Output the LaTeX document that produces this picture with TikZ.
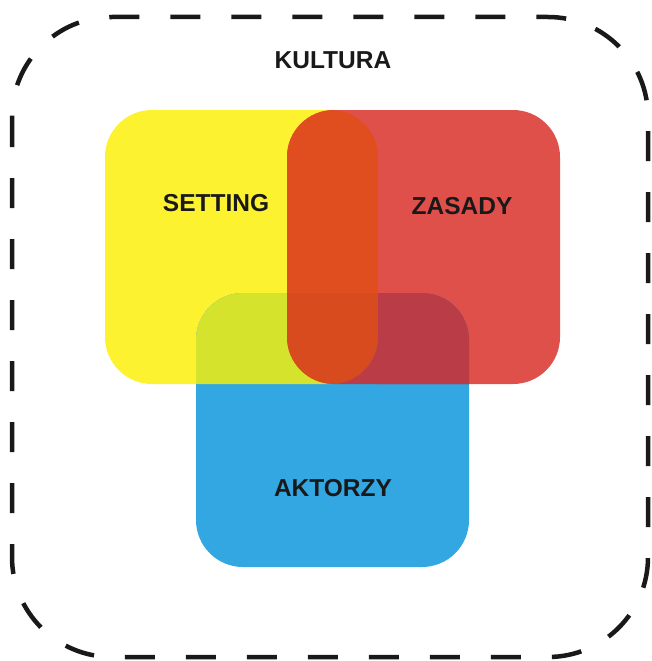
\documentclass[tikz,border=0pt]{standalone}
\usepackage{fontspec}
\setmainfont{Liberation Sans}
\definecolor{cY}{HTML}{FDF22F}
\definecolor{cR}{HTML}{E0504B}
\definecolor{cB}{HTML}{33A7E1}
\definecolor{cYR}{HTML}{E04E1F}
\definecolor{cYB}{HTML}{D5E32D}
\definecolor{cRB}{HTML}{B93C46}
\definecolor{cYRB}{HTML}{D84B1F}
\tikzset{
  lbl/.style={font=\fontsize{24.5}{29}\selectfont\bfseries, text=black!90, inner sep=0pt},
  outer/.style={draw=black!90, line width=4.5pt, dash pattern=on 30pt off 31pt, rounded corners=100pt},
}
\begin{document}
\begin{tikzpicture}[x=1pt,y=-1pt]
\useasboundingbox (0,0) rectangle (652,661);
\def\yellowpath{(105,110) [rounded corners=47pt] rectangle (378,384)}
\def\redpath{(287,110) [rounded corners=47pt] rectangle (560,384)}
\def\bluepath{(196,293) [rounded corners=47pt] rectangle (469,567)}
\fill[cY, rounded corners=47pt] (105,110) rectangle (378,384);
\fill[cR, rounded corners=47pt] (287,110) rectangle (560,384);
\fill[cB, rounded corners=47pt] (196,293) rectangle (469,567);
\begin{scope}
  \clip[rounded corners=47pt] (105,110) rectangle (378,384);
  \fill[cYB, rounded corners=47pt] (196,293) rectangle (469,567);
  \fill[cYR, rounded corners=47pt] (287,110) rectangle (560,384);
  \clip[rounded corners=47pt] (287,110) rectangle (560,384);
  \fill[cYRB, rounded corners=47pt] (196,293) rectangle (469,567);
\end{scope}
\begin{scope}
  \clip[rounded corners=47pt] (287,110) rectangle (560,384);
  \clip (378,0) rectangle (652,661);
  \fill[cRB, rounded corners=47pt] (196,293) rectangle (469,567);
\end{scope}
\begin{scope}
  \clip[rounded corners=47pt] (287,110) rectangle (560,384);
  \clip[rounded corners=47pt] (196,293) rectangle (469,567);
  \begin{scope}[even odd rule]
    \clip (0,0) rectangle (652,661) [rounded corners=47pt] (105,110) rectangle (378,384);
    \fill[cRB] (0,0) rectangle (652,661);
  \end{scope}
\end{scope}
\draw[outer] (12,17) rectangle (648,657);
\node[lbl] (kultura) at (333,60) {KULTURA};
\node[lbl] (setting) at (216,203) {SETTING};
\node[lbl] (zasady) at (462,206) {ZASADY};
\node[lbl] (aktorzy) at (333,488) {AKTORZY};
\end{tikzpicture}
\end{document}
